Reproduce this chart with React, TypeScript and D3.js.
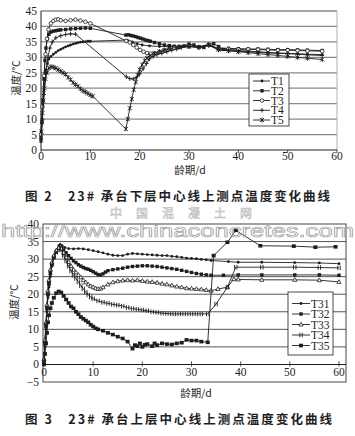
import React from 'react';
import * as d3 from 'd3';

type P = [number, number];

// ---------- Figure 2 data ----------
const c1Names = ['T1', 'T2', 'T3', 'T4', 'T5'];
const c1Markers = ['dot', 'square', 'circle', 'plus', 'star'];
const c1T1: P[] = [[0,6],[0.2,10],[0.4,15],[0.6,19],[0.8,23],[1,26],[1.3,28],[1.6,29.5],[2,30.3],[2.5,31],[3,31.6],[3.5,32.2],[4,32.6],[4.5,33],[5,33.4],[5.5,33.7],[6,34],[6.5,34.3],[7,34.5],[7.5,34.7],[8,34.9],[8.5,35],[9,35.1],[9.5,35.2],[10,35.2],[17.5,35.6],[18.5,35],[19.5,34.4],[20.5,34],[22,33.7],[24,33.5],[26,33.5],[28,33.6],[30,33.8],[32,33.4],[34,34.2],[36,32.8],[38,32.5],[40,32.2],[42,32],[44,31.8],[46,31.6],[48,31.4],[50,31.3],[52,31.2],[54,31],[57,30.9]];
const c1T2: P[] = [[0,4],[0.2,9],[0.4,16],[0.6,23],[0.8,29],[1,33],[1.3,36],[1.6,37.5],[2,38.2],[2.5,38.5],[3,38.6],[3.5,38.8],[4,38.9],[5,39],[6,39.2],[7,39.3],[8,39.4],[9,39.5],[10,39.4],[17.2,37.2],[17.7,37.3],[18.2,37.1],[18.7,36.9],[19.2,36.7],[19.7,36.4],[20.2,36.2],[20.7,35.9],[21.2,35.6],[21.7,35.4],[22.2,35.2],[23,34.8],[24,34.4],[25,34],[26,33.8],[27,33.6],[28,33.5],[29,33.7],[30,34.3],[31,34],[32,33.3],[33,33.2],[34,34.2],[35,34.4],[36,33.5],[37,32.6],[38,32.9],[40,32.8],[42,32.7],[44,32.7],[46,32.6],[48,32.5],[50,32.5],[52,32.4],[54,32.3],[57,32.2]];
const c1T3: P[] = [[0,5],[0.3,14],[0.6,24],[0.9,31],[1.2,36],[1.5,39],[2,41],[2.5,41.8],[3,42.2],[3.5,42.3],[4,42],[5,41.8],[6,42],[7,42.2],[8,41.9],[9,41.5],[10,41],[17.3,35.3],[18,34.8],[18.7,34],[19.4,33.2],[20.1,32.4],[20.8,31.8],[21.5,31.4],[22.2,31.2],[23,31.3],[24,31.7],[25,32.2],[26,32.7],[27,33],[28,33.3],[30,33.6],[32,33.2],[34,34],[36,32.7],[38,32.7],[40,32.6],[42,32.6],[44,32.5],[46,32.4],[48,32.3],[50,32.3],[52,32.2],[54,32.1],[57,32]];
const c1T4: P[] = [[0,3],[0.3,10],[0.6,18],[1,25],[1.4,30],[1.8,33],[2.3,35],[3,36.3],[4,37],[5,37.4],[6,37.6],[7,37.5],[17.3,23.7],[18,23.1],[18.7,23],[19.3,23.4],[20,24.6],[20.7,26.3],[21.4,28],[22,29.5],[22.7,30.3],[23.5,30.9],[24.5,31.3],[25.5,31.8],[26.5,32.3],[27.5,32.7],[28.5,33.2],[30,33.5],[32,33.2],[34,33.9],[36,32.4],[38,32.2],[40,32],[42,31.8],[44,31.6],[46,31.4],[48,31.3],[50,31.2],[52,31],[54,30.8],[57,30.6]];
const c1T5: P[] = [[0,3],[0.1,6],[0.2,9],[0.3,12],[0.5,16],[0.7,20],[0.9,23],[1.2,25],[1.6,26.5],[2,27],[2.5,26.8],[3,26.5],[3.5,26],[4,25.5],[4.5,25],[5,24.5],[5.5,23.5],[6,22.8],[6.5,21.8],[7,21.2],[7.5,20.6],[8,19.8],[8.5,19.2],[9,18.8],[9.5,18.3],[10,17.8],[10.5,17.4],[17.2,6.8],[17.6,10],[18,13.5],[18.4,16.5],[18.8,19.5],[19.2,22],[19.6,24.3],[20,26],[20.5,27.6],[21,28.9],[21.5,29.8],[22,30.5],[23,31.3],[24,31.9],[25,32.4],[26,32.9],[28,33.3],[30,33.5],[32,33.3],[34,34],[36,32.5],[38,32.1],[40,31.8],[42,31.5],[44,31.2],[46,30.9],[48,30.6],[50,30.3],[52,30],[54,29.7],[57,29.3]];
const c1Series = [c1T1, c1T2, c1T3, c1T4, c1T5];

// ---------- Figure 3 data ----------
const c2Names = ['T31', 'T32', 'T33', 'T34', 'T35'];
const c2Markers = ['dot', 'square', 'triangle', 'hash', 'bigsquare'];
const c2T31: P[] = [[0,1],[0.2,5],[0.4,10],[0.6,15],[0.8,19],[1,22],[1.3,25],[1.6,28],[2,30.5],[2.5,32.5],[3,33.8],[3.3,34.2],[3.7,33.8],[4.2,33.3],[5,33],[6,32.9],[7,33],[8,32.9],[9,32.7],[10,32.4],[11,32.1],[12,31.8],[13,31.4],[14,31.1],[15,31],[16,31],[17,31.4],[18,31.6],[19,31.5],[20,31.4],[21,31.3],[22,31.2],[23,31.1],[24,31],[25,31],[26,30.8],[27,30.7],[28,30.5],[29,30.3],[30,30.2],[31,30.1],[32,29.9],[33,29.8],[34,29.6],[37.5,29.3],[39.5,29.1],[44.3,29.1],[51,29],[56,28.9],[60,28.7]];
const c2T32: P[] = [[0,1],[0.2,6],[0.4,11],[0.6,16],[0.8,20],[1,23],[1.3,26],[1.6,28.5],[2,30.5],[2.5,32],[3,33],[3.5,33.2],[4,32.6],[4.5,31.8],[5,31],[5.5,30.2],[6,29.5],[6.5,29],[7,28.4],[7.5,28],[8,27.6],[8.5,27.3],[9,27.1],[9.5,26.8],[10,26.4],[10.5,26],[11,25.6],[11.5,25.5],[12,25.8],[12.5,26.3],[13,26.7],[14,27],[15,27.2],[16,27.4],[17,27.7],[18,27.9],[19,28],[20,28.1],[21,28.1],[22,28],[23,27.9],[24,27.7],[25,27.5],[26,27.3],[27,27.1],[28,26.8],[29,26.5],[30,26.2],[31,25.9],[32,25.7],[33,25.5],[34,25.4],[36.5,25.4],[39.5,25.5],[44.3,25.5],[51,25.5],[56,25.5],[60,25.4]];
const c2T33: P[] = [[0,1.5],[0.2,7],[0.4,12],[0.6,17],[0.8,21],[1,24],[1.3,27],[1.6,29],[2,31],[2.5,32.5],[3,33.2],[3.5,33],[4,31.8],[4.5,30.5],[5,29.2],[5.5,28],[6,27],[6.5,26.2],[7,25.5],[7.5,24.8],[8,24],[8.5,23.4],[9,22.8],[9.5,22.3],[10,22],[10.5,21.7],[11,21.5],[11.5,21.6],[12,22],[13,22.8],[14,23.4],[15,23.7],[16,23.9],[17,24],[18,23.9],[19,24],[20,23.8],[21,23.6],[22,23.5],[23,23.3],[24,23],[25,22.8],[26,22.5],[27,22.2],[28,22],[29,21.7],[30,21.6],[31,21.5],[32,21.4],[33,21.2],[34,21],[35.4,21.5],[37.3,22],[38.6,24.3],[39.5,24.2],[44.3,24.1],[51,24.1],[56,24],[60,23.5]];
const c2T34: P[] = [[0,1],[0.2,6],[0.4,11],[0.6,16],[0.8,20],[1,23],[1.3,26],[1.6,28.5],[2,30.5],[2.5,32],[3,32.8],[3.5,32.6],[4,31],[4.5,29.5],[5,28],[5.5,26.6],[6,25.4],[6.5,24.5],[7,23.5],[7.5,22.4],[8,21.5],[8.5,20.6],[9,19.8],[9.5,19.2],[10,18.7],[11,18.1],[12,17.7],[13,17.4],[14,17.1],[15,16.9],[16,16.6],[17,16.2],[18,15.9],[19,15.7],[20,15.5],[21,15.3],[22,15],[23,14.8],[24,14.6],[25,14.5],[26,14.4],[27,14.4],[28,14.4],[29,14.4],[30,14.4],[31,14.4],[32,14.4],[33.3,14.4],[35,17.2],[37.3,22],[39,27.7],[44.3,27.7],[51,27.7],[56,27.6],[60,27.5]];
const c2T35: P[] = [[0,0],[0.2,3],[0.4,6],[0.6,9],[0.8,12],[1,14],[1.3,16],[1.6,17.5],[2,19],[2.5,20.3],[3,20.8],[3.5,20.5],[4,19.5],[4.5,18.5],[5,17.5],[5.5,16.5],[6,16],[6.5,15],[7,14.3],[7.5,13.5],[8,13],[8.5,12.5],[9,12],[9.5,11.3],[10,10.8],[10.5,10.3],[11,10],[12,9.6],[13,9],[14,8.5],[15,7.9],[16,7.4],[17,6.5],[18,4.5],[18.5,5.5],[19,5.2],[19.5,6],[20,5],[20.5,5.6],[21,5.8],[22,5.2],[22.5,6],[23,5.5],[24,6],[25,5.8],[26,5.7],[27,6],[28,6.2],[29,7],[30,6.8],[31,6.8],[32,6.5],[33.3,6.3],[34.5,31],[37.3,34.8],[39,38.2],[44,33.8],[50.8,33.7],[55.2,33.4],[59.3,33.5]];
const c2Series = [c2T31, c2T32, c2T33, c2T34, c2T35];

const xTicks = [0, 10, 20, 30, 40, 50, 60];
const yTicks1 = [0, 5, 10, 15, 20, 25, 30, 35, 40, 45];
const yTicks2 = [-5, 0, 5, 10, 15, 20, 25, 30, 35, 40];

const INK = '#1e1e1e';
const SERIF = '"Liberation Serif", "DejaVu Serif", serif';
const CJK = '"Noto Sans CJK SC", sans-serif';

function Marker({ type, x, y }: { type: string; x: number; y: number }) {
  switch (type) {
    case 'dot':
      return <circle cx={x} cy={y} r={1.4} fill={INK} />;
    case 'square':
      return <rect x={x - 1.7} y={y - 1.7} width={3.4} height={3.4} fill={INK} />;
    case 'bigsquare':
      return <rect x={x - 2} y={y - 1.8} width={4} height={3.6} fill={INK} />;
    case 'circle':
      return <circle cx={x} cy={y} r={1.8} fill="#fff" stroke={INK} strokeWidth={0.8} />;
    case 'triangle':
      return <path d={`M${x},${y - 2.2}L${x + 2.1},${y + 1.5}L${x - 2.1},${y + 1.5}Z`} fill="#fff" stroke={INK} strokeWidth={0.8} />;
    case 'plus':
      return <path d={`M${x},${y - 2.3}V${y + 2.3}M${x - 2},${y}H${x + 2}`} stroke={INK} strokeWidth={0.9} />;
    case 'hash':
      return <path d={`M${x - 1.2},${y - 2.3}V${y + 2.3}M${x + 1.2},${y - 2.3}V${y + 2.3}`} stroke={INK} strokeWidth={0.9} />;
    case 'star':
      return <path d={`M${x - 2},${y - 2}L${x + 2},${y + 2}M${x - 2},${y + 2}L${x + 2},${y - 2}M${x},${y - 2.4}V${y + 2.4}`} stroke={INK} strokeWidth={0.9} />;
    default:
      return null;
  }
}

function Series({ data, marker, xs, ys }: { data: P[]; marker: string; xs: any; ys: any }) {
  const line = d3.line<P>().x((d) => xs(d[0])).y((d) => ys(d[1]));
  return (
    <g>
      <path d={line(data) || ''} fill="none" stroke={INK} strokeWidth={0.9} />
      {data.map((d, i) => (
        <Marker key={i} type={marker} x={xs(d[0])} y={ys(d[1])} />
      ))}
    </g>
  );
}

export default function App() {
  // Figure 2 scales
  const xs1 = d3.scaleLinear().domain([0, 60]).range([41, 337]);
  const ys1 = d3.scaleLinear().domain([0, 45]).range([150, 11]);
  // Figure 3 scales
  const xs2 = d3.scaleLinear().domain([0, 60]).range([44, 339]);
  const ys2 = d3.scaleLinear().domain([-5, 40]).range([382, 224]);

  const leg1 = { x: 249, y: 74, w: 40, h: 52, rows: [81, 90.8, 100.5, 110.3, 120] };
  const leg2 = { x: 288, y: 292, w: 45, h: 63, rows: [303.5, 314, 324.5, 335, 345.5] };

  return (
    <svg width={355} height={436} style={{ position: 'absolute', left: 0, top: 0, background: '#fff' }}>
      <rect x={0} y={0} width={355} height={436} fill="#fff" />

      {/* ===== Figure 2 ===== */}
      <g>
        {yTicks1.filter((v) => v > 0).map((v) => (
          <line key={v} x1={xs1(0)} x2={xs1(60)} y1={ys1(v)} y2={ys1(v)} stroke="#8a8a8a" strokeWidth={1.3} />
        ))}
        <line x1={xs1(60)} x2={xs1(60)} y1={ys1(45)} y2={ys1(0)} stroke="#b0b0b0" strokeWidth={1} />
        <line x1={xs1(0)} x2={xs1(0)} y1={ys1(45)} y2={ys1(0)} stroke={INK} strokeWidth={1} />
        <line x1={xs1(0)} x2={xs1(60)} y1={ys1(0)} y2={ys1(0)} stroke={INK} strokeWidth={1} />
        {xTicks.map((t) => (
          <line key={t} x1={xs1(t)} x2={xs1(t)} y1={ys1(0)} y2={ys1(0) + 3} stroke={INK} strokeWidth={0.8} />
        ))}
        {yTicks1.map((v) => (
          <text key={v} x={37} y={ys1(v) + 4} textAnchor="end" fontFamily={SERIF} fontSize={11.5} fill={INK}>{v}</text>
        ))}
        {xTicks.map((t) => (
          <text key={t} x={xs1(t)} y={160} textAnchor="middle" fontFamily={SERIF} fontSize={11.5} fill={INK}>{t}</text>
        ))}
        <text x={190} y={174} textAnchor="middle" fontFamily={CJK} fontSize={10.5} fill={INK}>龄期/d</text>
        <text transform="translate(20,78) rotate(-90)" textAnchor="middle" fontFamily={CJK} fontSize={10.5} fill={INK}>温度/℃</text>

        {c1Series.map((s, i) => (
          <Series key={i} data={s} marker={c1Markers[i]} xs={xs1} ys={ys1} />
        ))}

        <rect x={leg1.x} y={leg1.y} width={leg1.w} height={leg1.h} fill="#fff" stroke={INK} strokeWidth={0.8} />
        {c1Names.map((n, i) => (
          <g key={n}>
            <line x1={leg1.x + 4} x2={leg1.x + 21} y1={leg1.rows[i]} y2={leg1.rows[i]} stroke={INK} strokeWidth={0.9} />
            <Marker type={c1Markers[i]} x={leg1.x + 13} y={leg1.rows[i]} />
            <text x={leg1.x + 22} y={leg1.rows[i] + 4} fontFamily={SERIF} fontSize={11.5} fill={INK}>{n}</text>
          </g>
        ))}

        <text x={25} y={201} textLength={305} lengthAdjust="spacing" fontFamily={CJK} fontWeight={700} fontSize={12.5} fill={INK}>图 2　23# 承台下层中心线上测点温度变化曲线</text>
      </g>

      {/* watermark between figures */}
      <text x={110} y={218} textLength={142} lengthAdjust="spacing" fontFamily={CJK} fontSize={12} fill="none" stroke="#bdbdbd" strokeWidth={0.6}>中国混凝土网</text>

      {/* ===== Figure 3 ===== */}
      <g>
        {yTicks2.filter((v) => v > -5 && v < 40 && v !== 0).map((v) => (
          <line key={v} x1={43} x2={346} y1={ys2(v)} y2={ys2(v)} stroke="#555" strokeWidth={1} />
        ))}
        <rect x={43} y={ys2(40)} width={303} height={ys2(-5) - ys2(40)} fill="none" stroke="#444" strokeWidth={1} />
        <line x1={43} x2={346} y1={ys2(0)} y2={ys2(0)} stroke={INK} strokeWidth={1.1} />
        {xTicks.map((t) => (
          <line key={t} x1={xs2(t)} x2={xs2(t)} y1={ys2(0) - 3} y2={ys2(0) + 2} stroke={INK} strokeWidth={0.8} />
        ))}
        {yTicks2.map((v) => (
          <text key={v} x={39} y={ys2(v) + 4} textAnchor="end" fontFamily={SERIF} fontSize={11.5} fill={INK}>{v < 0 ? '−5' : v}</text>
        ))}
        {xTicks.map((t) => (
          <text key={t} x={xs2(t)} y={376} textAnchor="middle" fontFamily={SERIF} fontSize={11.5} fill={INK}>{t}</text>
        ))}
        <text x={196} y={397} textAnchor="middle" fontFamily={CJK} fontSize={10.5} fill={INK}>龄期/d</text>
        <text transform="translate(18,302) rotate(-90)" textAnchor="middle" fontFamily={CJK} fontSize={10.5} fill={INK}>温度/℃</text>

        {c2Series.map((s, i) => (
          <Series key={i} data={s} marker={c2Markers[i]} xs={xs2} ys={ys2} />
        ))}

        <rect x={leg2.x} y={leg2.y} width={leg2.w} height={leg2.h} fill="#fff" stroke={INK} strokeWidth={0.8} />
        {c2Names.map((n, i) => (
          <g key={n}>
            <line x1={leg2.x + 4} x2={leg2.x + 22} y1={leg2.rows[i]} y2={leg2.rows[i]} stroke={INK} strokeWidth={0.9} />
            <Marker type={c2Markers[i]} x={leg2.x + 13} y={leg2.rows[i]} />
            <text x={leg2.x + 23} y={leg2.rows[i] + 4} fontFamily={SERIF} fontSize={11.5} fill={INK}>{n}</text>
          </g>
        ))}

        <text x={25} y={424} textLength={307} lengthAdjust="spacing" fontFamily={CJK} fontWeight={700} fontSize={12.5} fill={INK}>图 3　23# 承台上层中心线上测点温度变化曲线</text>
      </g>

      {/* URL watermark */}
      <text x={1} y={237} textLength={353} lengthAdjust="spacingAndGlyphs" fontFamily='"Liberation Sans", sans-serif' fontSize={19} fill="none" stroke="#a0a0a0" strokeWidth={0.7}>http://www.chinaconcretes.com</text>
    </svg>
  );
}
